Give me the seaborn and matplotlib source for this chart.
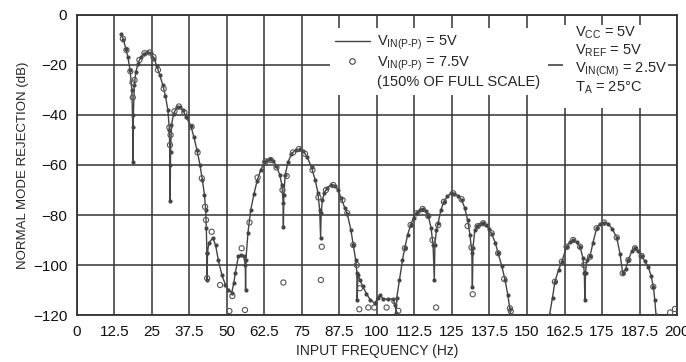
import numpy as np
import pandas as pd
import matplotlib
matplotlib.use("Agg")
import matplotlib.pyplot as plt
import seaborn as sns
from matplotlib.lines import Line2D
from matplotlib.patches import Rectangle

# -------------------------------
# Data
# -------------------------------

# VIN(P-P) = 5V, first segment (up to where it drops below -120 dB)
freq_5v_a = [14.7, 15.5, 16.3, 17.0, 17.7, 18.3, 18.6, 18.7, 18.8, 19.1, 19.6, 20.3,
             21.2, 22.3, 23.5, 24.7, 25.8, 26.6, 27.6, 28.6, 29.5, 30.3, 30.8, 31.0,
             31.05, 31.2, 31.5, 32.2, 33.2, 34.2, 35.3, 36.5, 38.0, 39.0, 40.0, 41.0,
             41.8, 42.5, 42.9, 43.1, 43.3, 43.4, 43.5, 44.0, 45.3, 46.2, 47.1, 48.3,
             49.5, 50.5, 51.6, 52.3, 52.8, 53.8, 54.8, 55.6, 56.1, 56.2, 56.3, 57.0,
             57.9, 59.0, 60.0, 61.2, 62.5, 63.5, 64.5, 65.5, 66.5, 67.6, 68.3, 68.7,
             68.8, 68.95, 69.4, 70.3, 71.5, 73.0, 74.3, 75.5, 76.8, 78.2, 79.4, 80.3,
             80.9, 81.2, 81.4, 81.8, 82.5, 83.5, 84.8, 86.0, 87.0, 88.0, 89.2, 90.1,
             91.3, 92.1, 92.9, 93.3, 93.4, 93.6, 94.3, 95.2, 96.5, 97.8, 99.3, 100.3,
             101.0, 102.0, 103.8, 105.3, 106.1, 106.3, 106.6, 107.5, 108.5, 109.3, 110.2, 111.2,
             112.2, 113.2, 114.3, 115.2, 116.2, 117.1, 118.0, 118.7, 119.1, 119.3, 119.8, 120.4,
             121.3, 122.3, 123.5, 124.7, 125.8, 127.0, 128.2, 129.2, 130.2, 131.0, 131.6, 131.8,
             132.0, 132.6, 133.5, 134.5, 135.4, 136.4, 137.3, 138.2, 139.4, 140.4, 141.6, 142.7,
             143.6, 144.3, 144.6]
rej_5v_a = [-7.5, -10, -13.5, -17, -22, -30, -45, -59, -40, -28, -23, -19.5,
            -17, -15.5, -15, -15.3, -17.5, -20.5, -24, -28, -32.5, -38, -46, -60,
            -74.4, -55, -44, -39.5, -37, -36.8, -38, -41, -44.5, -49, -54, -60,
            -66, -72, -78, -85, -95, -106, -95, -91, -89.3, -92, -98, -104,
            -108, -110, -111, -107, -103, -96.5, -96, -96.5, -100, -110, -98, -87,
            -78, -71.6, -66.5, -62, -59, -58, -57.8, -58.3, -60.5, -64, -68, -75,
            -84.7, -72, -64, -59, -55.5, -54, -53.7, -54.5, -57, -61, -66, -71,
            -78, -89, -79, -74, -71, -69, -67.8, -68.2, -70, -73, -77, -79.5,
            -86, -92, -98, -103, -114, -104, -106, -108.4, -111.5, -114, -115.3, -113,
            -112, -113.5, -113.7, -113.5, -116, -119, -113, -106, -98, -93, -88, -84,
            -81, -79, -77.8, -77.6, -78.3, -80.4, -85, -92, -106, -92, -86, -83,
            -78, -74.7, -72.5, -71.3, -71.4, -72.3, -74, -77, -82, -88, -95, -108.7,
            -93, -86, -84.5, -83.4, -83.3, -84, -85.6, -87.5, -91, -95.3, -100.5, -106,
            -112, -117.5, -120]

# VIN(P-P) = 5V, second segment
freq_5v_b = [157.5, 158.5, 159.3, 160.5, 161.6, 163.2, 164.3, 165.4, 166.6, 167.7, 168.6, 169.1,
             169.3, 169.5, 170.0, 171.0, 172.0, 173.2, 174.4, 175.7, 176.9, 178.4, 179.9, 181.0,
             181.9, 182.9, 183.8, 184.9, 186.0, 187.1, 188.2, 189.3, 190.4, 191.4, 192.1, 192.6,
             193.0]
rej_5v_b = [-120, -113, -106.7, -102, -98.7, -92.7, -90.8, -90, -90.8, -92.7, -97, -103,
            -114, -103, -98, -96.5, -91, -85.3, -83.5, -83, -83.4, -85.5, -89, -95.5,
            -103.3, -101.5, -98, -94.5, -93.3, -94.5, -96.4, -98.5, -100.7, -104.5, -108.7, -114,
            -120]

# VIN(P-P) = 7.5V (150% of full scale), open circles
freq_7v5 = [15.3, 16.5, 17.8, 18.5, 18.6, 19.2, 20.8, 22.5, 24.2, 25.5, 27.0, 28.9,
            30.8, 31.0, 31.2, 32.5, 34.0, 35.8, 38.2, 40.2, 41.6, 42.7, 43.0, 43.4,
            44.9, 47.7, 50.8, 51.8, 54.9, 56.0, 57.5, 60.2, 62.8, 64.6, 66.5, 68.5,
            68.8, 69.9, 72.0, 74.0, 76.0, 78.5, 80.5, 81.3, 81.6, 83.0, 85.4, 88.5,
            90.1, 92.1, 93.3, 94.1, 94.3, 97.1, 99.1, 103.2, 105.8, 107.1, 109.3, 111.2,
            113.2, 115.2, 117.1, 118.5, 119.7, 120.4, 122.3, 125.4, 128.2, 130.2, 131.5, 131.9,
            133.5, 135.4, 138.2, 140.4, 142.4, 144.3, 144.6, 159.3, 161.6, 163.2, 165.4, 167.7,
            169.0, 171.0, 173.2, 175.7, 179.9, 181.9, 183.8, 186.0, 188.2, 192.1, 197.7, 199.3]
rej_7v5 = [-9.5, -14, -22.5, -27, -33, -26, -18, -15.3, -15, -16.8, -22, -29.5,
           -45, -52, -48, -38.5, -36.6, -39, -44.7, -55, -65.3, -76.7, -82, -105.3,
           -86.7, -108, -118.4, -112.4, -93.3, -118, -83, -65, -58.6, -58, -61, -70,
           -107, -64.4, -55, -53.6, -55.5, -62, -73, -106, -92.7, -70, -68, -74,
           -79.3, -92, -100, -117.7, -109.3, -117, -117, -117, -114.5, -118.3, -93.3, -84,
           -79.3, -77.6, -80.4, -90, -117, -84, -74.7, -71.3, -73.7, -84.4, -93, -111.7,
           -84.5, -83.3, -87.3, -95.3, -105.6, -117.3, -118.5, -106.7, -98.7, -92.7, -90, -92.7,
           -100, -96.7, -85.3, -83, -89, -103.3, -98, -93.3, -96.4, -108.7, -119, -117.6]

x_ticks = np.arange(0, 201, 12.5)
x_tick_labels = ["0", "12.5", "25", "37.5", "50", "62.5", "75", "87.5", "100",
                 "112.5", "125", "137.5", "150", "162.5", "175", "187.5", "200"]
y_ticks = [-120, -100, -80, -60, -40, -20, 0]

line_df = pd.concat([
    pd.DataFrame({"freq": freq_5v_a, "rej": rej_5v_a, "seg": 0}),
    pd.DataFrame({"freq": freq_5v_b, "rej": rej_5v_b, "seg": 1}),
])
circle_df = pd.DataFrame({"freq": freq_7v5, "rej": rej_7v5})

# -------------------------------
# Plot
# -------------------------------
sns.set_style("white")
plt.rcParams["font.family"] = ["Liberation Sans", "DejaVu Sans"]
plt.rcParams["mathtext.default"] = "regular"

fig = plt.figure(figsize=(6.86, 3.62), dpi=100)
ax = fig.add_axes([0.1122, 0.1298, 0.8747, 0.8288])

line_color = "#444444"
sns.lineplot(data=line_df, x="freq", y="rej", units="seg", estimator=None, sort=False,
             color=line_color, linewidth=1.0, marker="o", markersize=3,
             markeredgewidth=0, ax=ax, zorder=3)
sns.scatterplot(data=circle_df, x="freq", y="rej", marker="o", s=14,
                facecolor="none", edgecolor="#555555", linewidth=0.8, ax=ax, zorder=4)

ax.set_xlim(0, 200)
ax.set_ylim(-120, 0)
ax.set_xticks(x_ticks)
ax.set_xticklabels(x_tick_labels)
ax.set_yticks(y_ticks)
ax.tick_params(length=0, labelsize=11, pad=7, colors="#111111")
ax.grid(True, color="#333333", linewidth=1.1)
ax.set_axisbelow(True)
for s in ax.spines.values():
    s.set_color("#333333")
    s.set_linewidth(1.3)

ax.set_xlabel("INPUT FREQUENCY (Hz)", fontsize=10, labelpad=4)
ax.set_ylabel("NORMAL MODE REJECTION (dB)", fontsize=9.5, labelpad=3)

# white boxes behind legend / conditions
ax.add_patch(Rectangle((0.4217, 0.733), 0.363, 0.224, transform=ax.transAxes,
                       facecolor="white", edgecolor="none", zorder=1))
ax.add_patch(Rectangle((0.81, 0.69), 0.175, 0.277, transform=ax.transAxes,
                       facecolor="white", edgecolor="none", zorder=1))

handles = [Line2D([], [], color=line_color, linewidth=1.0),
           Line2D([], [], color=line_color, linestyle="none", marker="o",
                  markerfacecolor="none", markersize=4, markeredgewidth=0.8),
           Line2D([], [], linestyle="none")]
labels = ["V$_{IN(P\u2011P)}$ = 5V", "V$_{IN(P\u2011P)}$ = 7.5V", "(150% OF FULL SCALE)"]
ax.legend(handles, labels, loc="upper left", bbox_to_anchor=(0.43, 0.937),
          frameon=False, fontsize=10.5, handlelength=2.4, handletextpad=0.5,
          labelspacing=0.15, borderaxespad=0, borderpad=0)

cond_lines = ["V$_{CC}$ = 5V", "V$_{REF}$ = 5V", "V$_{IN(CM)}$ = 2.5V", "T$_{A}$ = 25\u00b0C"]
for i, t in enumerate(cond_lines):
    ax.text(0.83, 0.94 - i * 0.061, t, transform=ax.transAxes, fontsize=10.5,
            va="center", ha="left", zorder=5)

fig.savefig("out.png", dpi=100)
